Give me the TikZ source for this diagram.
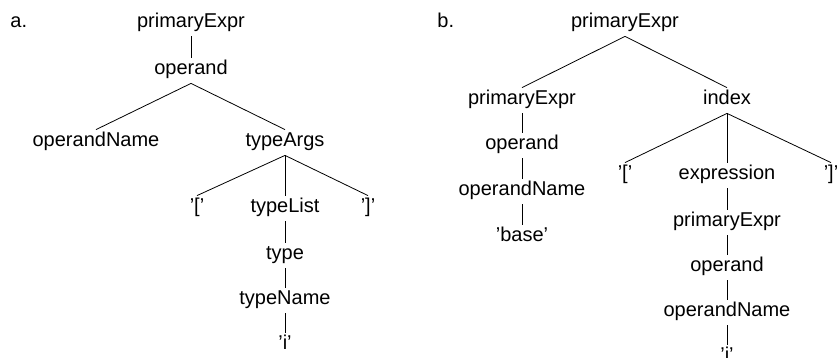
\documentclass[tikz,border=0pt]{standalone}
\usepackage{fontspec}
\setmainfont{Liberation Sans}
\usepackage{amsmath}

\begin{document}
\begin{tikzpicture}[x=0.5pt,y=-0.5pt,
  tnode/.style={inner sep=1.5pt,text height=7pt,text depth=2.5pt,anchor=base},
  tlabel/.style={inner sep=0pt,anchor=base west}]
\useasboundingbox (0,0) rectangle (837,358);
% tree a
\node[style=tlabel] (la) at (10,28) {a.};
\node[style=tnode] (a1) at (191,28) {primaryExpr};
\node[style=tnode] (a2) at (191,75) {operand};
\node[style=tnode] (a3) at (96,147) {operandName};
\node[style=tnode] (a4) at (285,147) {typeArgs};
\node[style=tnode] (a5) at (197,213) {'['};
\node[style=tnode] (a6) at (285,213) {typeList};
\node[style=tnode] (a7) at (368,213) {']'};
\node[style=tnode] (a8) at (285,260) {type};
\node[style=tnode] (a9) at (285,305) {typeName};
\node[style=tnode] (a10) at (285,350) {'i'};
\path[draw](a1) edge (a2);
\path[draw](a2.south) edge (a3.north);
\path[draw](a2.south) edge (a4.north);
\path[draw](a4.south) edge (a5.north);
\path[draw](a4.south) edge (a6.north);
\path[draw](a4.south) edge (a7.north);
\path[draw](a6) edge (a8);
\path[draw](a8) edge (a9);
\path[draw](a9) edge (a10);
% tree b
\node[style=tlabel] (lb) at (437,28) {b.};
\node[style=tnode] (b1) at (625,28) {primaryExpr};
\node[style=tnode] (b2) at (522,105) {primaryExpr};
\node[style=tnode] (b3) at (522,150) {operand};
\node[style=tnode] (b4) at (522,196) {operandName};
\node[style=tnode] (b5) at (522,242) {'base'};
\node[style=tnode] (b6) at (727,105) {index};
\node[style=tnode] (b7) at (625,180) {'['};
\node[style=tnode] (b8) at (727,180) {expression};
\node[style=tnode] (b9) at (831,180) {']'};
\node[style=tnode] (b10) at (727,227) {primaryExpr};
\node[style=tnode] (b11) at (727,272) {operand};
\node[style=tnode] (b12) at (727,317) {operandName};
\node[style=tnode] (b13) at (727,362) {'i'};
\path[draw](b1.south) edge (b2.north);
\path[draw](b1.south) edge (b6.north);
\path[draw](b2) edge (b3);
\path[draw](b3) edge (b4);
\path[draw](b4) edge (b5);
\path[draw](b6.south) edge (b7.north);
\path[draw](b6.south) edge (b8.north);
\path[draw](b6.south) edge (b9.north);
\path[draw](b8) edge (b10);
\path[draw](b10) edge (b11);
\path[draw](b11) edge (b12);
\path[draw](b12) edge (b13);
\end{tikzpicture}
\end{document}
